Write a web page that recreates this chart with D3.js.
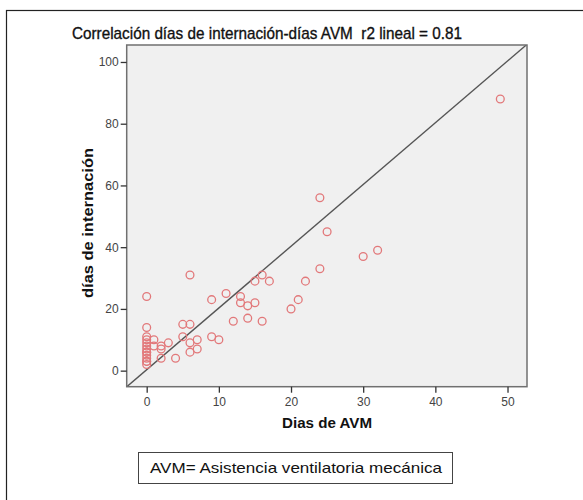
<!DOCTYPE html>
<html><head><meta charset="utf-8">
<script src="https://cdn.jsdelivr.net/npm/d3@7"></script>
<style>body{margin:0;background:#fff}svg{display:block}</style>
</head><body>
<svg id="c" width="583" height="500"></svg>
<script>
const titleText = "Correlación días de internación-días AVM\u00a0\u00a0r2 lineal = 0.81";
const xLabel = "Dias de AVM";
const yLabel = "días de internación";
const noteText = "AVM= Asistencia ventilatoria mecánica";
const xTicks = [0, 10, 20, 30, 40, 50];
const yTicks = [0, 20, 40, 60, 80, 100];
// días de AVM (x) and días de internación (y)
const diasAVM = [0,0,0,0,0,0,0,0,0,0,0,0,0,0,
  1,1,2,2,2,3,4,5,6,5,6,7,7,6,6,9,9,10,11,12,13,13,14,14,15,15,16,16,17,20,21,22,24,24,25,30,32,49];
const diasInternacion = [24,14,2,3,4,5,6,7,8,9,10,11,3,6,
  10,8,8,7,4,9,4,15,15,11,9,10,7,6,31,23,11,10,25,16,24,22,21,17,22,29,31,16,29,20,23,29,33,56,45,37,39,88];
const fitIntercept = 0.3;
const fitSlope = 2.0;

const svg = d3.select("#c");
const L = 126.7, R = 527, T = 45, B = 386.7;
const x = d3.scaleLinear().domain([-2.77, 52.7]).range([L, R]);
const y = d3.scaleLinear().domain([-5.2, 105.5]).range([B, T]);

// outer frame
svg.append("rect").attr("x", 6.5).attr("y", 10.5).attr("width", 700).attr("height", 700)
  .attr("fill", "none").attr("stroke", "#222").attr("stroke-width", 1.2);

// title
svg.append("text").attr("x", 267).attr("y", 39).attr("text-anchor", "middle")
  .attr("font-family", "Liberation Sans, Arial, sans-serif").attr("font-size", 17)
  .attr("textLength", 390).attr("lengthAdjust", "spacingAndGlyphs")
  .attr("stroke", "#111").attr("stroke-width", 0.35)
  .attr("fill", "#111").text(titleText);

// plot background
svg.append("rect").attr("x", L).attr("y", T).attr("width", R - L).attr("height", B - T)
  .attr("fill", "#f0f0f0");

svg.append("clipPath").attr("id", "pc").append("rect")
  .attr("x", L).attr("y", T).attr("width", R - L).attr("height", B - T);

// fit line
const xd = x.domain();
svg.append("line").attr("clip-path", "url(#pc)")
  .attr("x1", x(xd[0])).attr("y1", y(fitIntercept + fitSlope * xd[0]))
  .attr("x2", x(xd[1])).attr("y2", y(fitIntercept + fitSlope * xd[1]))
  .attr("stroke", "#555").attr("stroke-width", 1.4);

// points
const pts = diasAVM.map((d, i) => ({x: d, y: diasInternacion[i]}));
svg.append("g").selectAll("circle").data(pts).join("circle")
  .attr("cx", d => x(d.x)).attr("cy", d => y(d.y)).attr("r", 3.9)
  .attr("fill", "none").attr("stroke", "#e2787a").attr("stroke-width", 1.3);

// plot border
svg.append("rect").attr("x", L).attr("y", T).attr("width", R - L).attr("height", B - T)
  .attr("fill", "none").attr("stroke", "#707070").attr("stroke-width", 1.5);

// axes
const fontAx = "Liberation Sans, Arial, sans-serif";
const gy = svg.append("g").attr("transform", `translate(${L},0)`)
  .call(d3.axisLeft(y).tickValues(yTicks).tickSize(6).tickPadding(2));
const gx = svg.append("g").attr("transform", `translate(0,${B})`)
  .call(d3.axisBottom(x).tickValues(xTicks).tickSize(6).tickPadding(5));
[gx, gy].forEach(g => {
  g.select(".domain").remove();
  g.selectAll(".tick line").attr("stroke", "#333").attr("stroke-width", 1.3);
  g.selectAll(".tick text").attr("font-family", fontAx).attr("font-size", 12).attr("fill", "#444");
});

// axis labels
svg.append("text").attr("x", 327).attr("y", 428).attr("text-anchor", "middle")
  .attr("font-family", fontAx).attr("font-size", 14).attr("font-weight", "bold")
  .attr("textLength", 90).attr("lengthAdjust", "spacingAndGlyphs")
  .attr("fill", "#111").text(xLabel);
svg.append("text").attr("transform", "translate(93,223) rotate(-90)").attr("text-anchor", "middle")
  .attr("font-family", fontAx).attr("font-size", 15.5).attr("font-weight", "bold")
  .attr("textLength", 150).attr("lengthAdjust", "spacingAndGlyphs")
  .attr("fill", "#111").text(yLabel);

// note box
svg.append("rect").attr("x", 138.5).attr("y", 452.5).attr("width", 314).attr("height", 31)
  .attr("fill", "#fff").attr("stroke", "#444").attr("stroke-width", 1);
svg.append("text").attr("x", 150).attr("y", 473).attr("font-family", fontAx)
  .attr("font-size", 14.5).attr("textLength", 292).attr("lengthAdjust", "spacingAndGlyphs")
  .attr("fill", "#111").text(noteText);
</script>
</body></html>
